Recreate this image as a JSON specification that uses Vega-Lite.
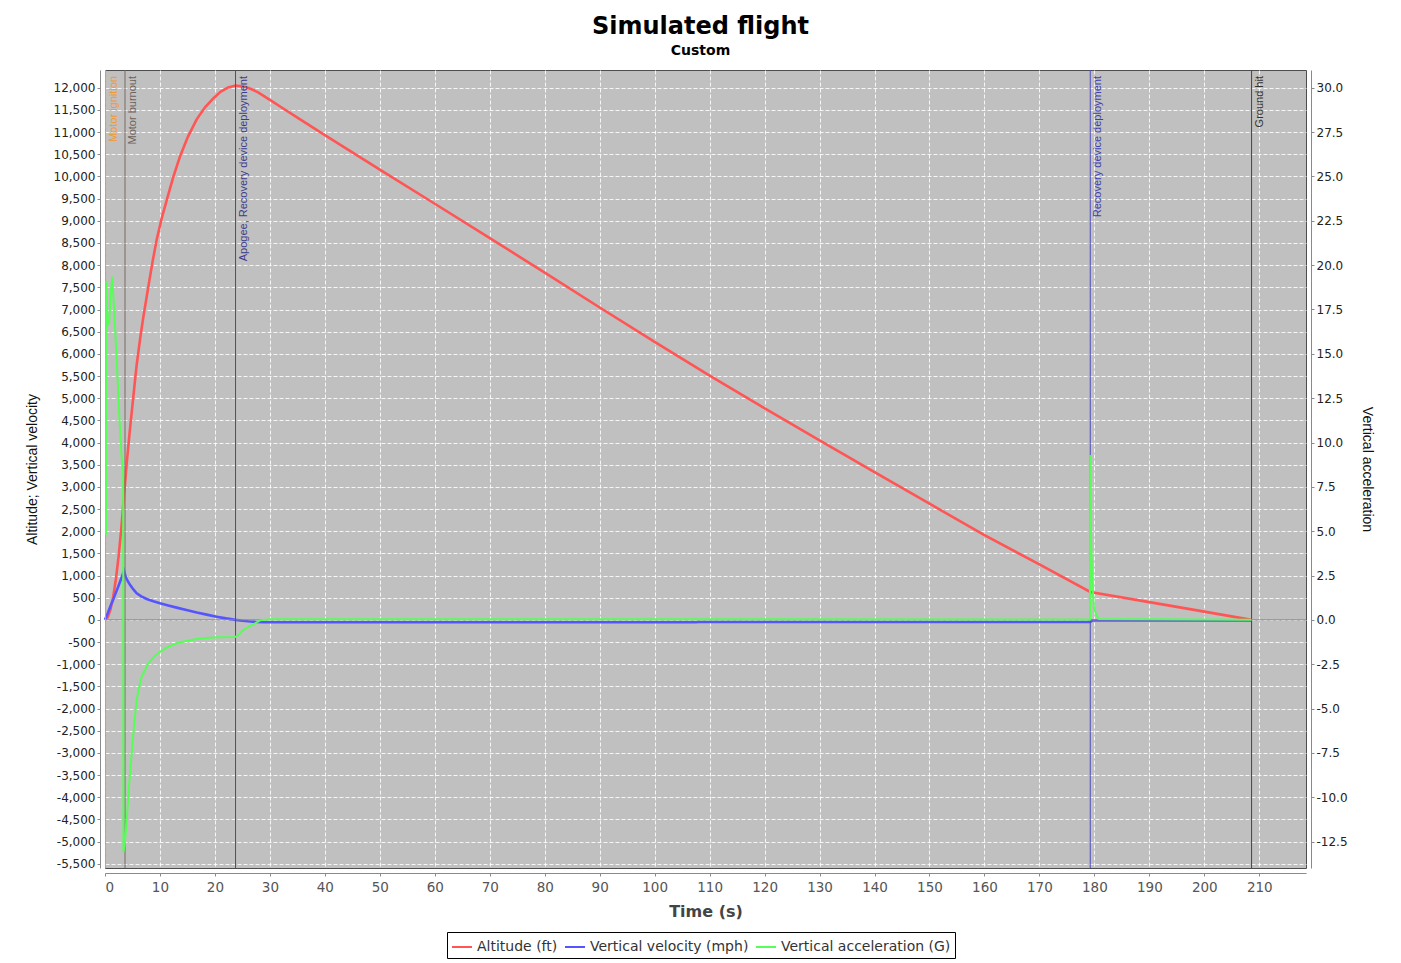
{
  "$schema": "https://vega.github.io/schema/vega-lite/v6.json",
  "width": 1201,
  "height": 798,
  "autosize": {"type": "none"},
  "padding": {"left": 105, "top": 70, "right": 95, "bottom": 95},
  "background": "white",
  "title": {
    "text": "Simulated flight",
    "subtitle": "Custom",
    "font": "DejaVu Sans",
    "fontSize": 24,
    "fontWeight": "bold",
    "color": "#000000",
    "subtitleFont": "DejaVu Sans",
    "subtitleFontSize": 14,
    "subtitleFontWeight": "bold",
    "subtitleColor": "#000000",
    "anchor": "middle",
    "offset": 12,
    "subtitlePadding": 5,
    "dx": -5
  },
  "config": {
    "locale": {"number": {"decimal": ".", "thousands": ",", "grouping": [3], "currency": ["$", ""], "minus": "-"}},
    "view": {"fill": "#c0c0c0", "stroke": "#4d4d4d", "strokeWidth": 1},
    "axis": {
      "domainColor": "#8a8a8a",
      "tickColor": "#8a8a8a",
      "tickSize": 3,
      "labelFont": "DejaVu Sans",
      "labelFontSize": 12,
      "labelColor": "#222222",
      "labelOverlap": false,
      "labelBound": false,
      "gridColor": "#ffffff",
      "gridDash": [4, 2],
      "gridOpacity": 0.85,
      "gridWidth": 1,
      "titleFont": "Liberation Sans",
      "titleFontWeight": "normal",
      "titleFontSize": 14,
      "titleColor": "#111111"
    }
  },
  "datasets": {
    "flight": [
      {"series": "Altitude (ft)", "t": 0, "v": 0},
      {"series": "Altitude (ft)", "t": 0.5, "v": 58},
      {"series": "Altitude (ft)", "t": 1, "v": 234},
      {"series": "Altitude (ft)", "t": 1.5, "v": 526},
      {"series": "Altitude (ft)", "t": 2, "v": 936},
      {"series": "Altitude (ft)", "t": 2.5, "v": 1462},
      {"series": "Altitude (ft)", "t": 3, "v": 2106},
      {"series": "Altitude (ft)", "t": 3.46, "v": 2800},
      {"series": "Altitude (ft)", "t": 4, "v": 3600},
      {"series": "Altitude (ft)", "t": 4.5, "v": 4250},
      {"series": "Altitude (ft)", "t": 5, "v": 4850},
      {"series": "Altitude (ft)", "t": 5.4, "v": 5330},
      {"series": "Altitude (ft)", "t": 5.77, "v": 5760},
      {"series": "Altitude (ft)", "t": 6.4, "v": 6350},
      {"series": "Altitude (ft)", "t": 7, "v": 6850},
      {"series": "Altitude (ft)", "t": 8, "v": 7600},
      {"series": "Altitude (ft)", "t": 8.7, "v": 8110},
      {"series": "Altitude (ft)", "t": 9.41, "v": 8580},
      {"series": "Altitude (ft)", "t": 10.3, "v": 9050},
      {"series": "Altitude (ft)", "t": 11.22, "v": 9460},
      {"series": "Altitude (ft)", "t": 12.4, "v": 9980},
      {"series": "Altitude (ft)", "t": 13.64, "v": 10450},
      {"series": "Altitude (ft)", "t": 15.1, "v": 10900},
      {"series": "Altitude (ft)", "t": 16.68, "v": 11290},
      {"series": "Altitude (ft)", "t": 18.2, "v": 11560},
      {"series": "Altitude (ft)", "t": 19.7, "v": 11760},
      {"series": "Altitude (ft)", "t": 21, "v": 11910},
      {"series": "Altitude (ft)", "t": 22.4, "v": 12010},
      {"series": "Altitude (ft)", "t": 23.75, "v": 12050},
      {"series": "Altitude (ft)", "t": 25, "v": 12035},
      {"series": "Altitude (ft)", "t": 26, "v": 12000},
      {"series": "Altitude (ft)", "t": 27, "v": 11950},
      {"series": "Altitude (ft)", "t": 28, "v": 11885},
      {"series": "Altitude (ft)", "t": 29, "v": 11808},
      {"series": "Altitude (ft)", "t": 30, "v": 11728},
      {"series": "Altitude (ft)", "t": 32, "v": 11568},
      {"series": "Altitude (ft)", "t": 35.5, "v": 11290},
      {"series": "Altitude (ft)", "t": 40, "v": 10935},
      {"series": "Altitude (ft)", "t": 45, "v": 10545},
      {"series": "Altitude (ft)", "t": 50, "v": 10155},
      {"series": "Altitude (ft)", "t": 60, "v": 9385},
      {"series": "Altitude (ft)", "t": 69.5, "v": 8650},
      {"series": "Altitude (ft)", "t": 80, "v": 7830},
      {"series": "Altitude (ft)", "t": 90, "v": 7045},
      {"series": "Altitude (ft)", "t": 100, "v": 6270},
      {"series": "Altitude (ft)", "t": 110, "v": 5510},
      {"series": "Altitude (ft)", "t": 119.2, "v": 4830},
      {"series": "Altitude (ft)", "t": 130, "v": 4050},
      {"series": "Altitude (ft)", "t": 140, "v": 3330},
      {"series": "Altitude (ft)", "t": 150, "v": 2620},
      {"series": "Altitude (ft)", "t": 160, "v": 1910},
      {"series": "Altitude (ft)", "t": 170, "v": 1250},
      {"series": "Altitude (ft)", "t": 179.25, "v": 630},
      {"series": "Altitude (ft)", "t": 190, "v": 400},
      {"series": "Altitude (ft)", "t": 200, "v": 185},
      {"series": "Altitude (ft)", "t": 208.6, "v": 0},
      {"series": "Vertical velocity (mph)", "t": 0, "v": 0},
      {"series": "Vertical velocity (mph)", "t": 0.5, "v": 150},
      {"series": "Vertical velocity (mph)", "t": 1, "v": 310},
      {"series": "Vertical velocity (mph)", "t": 1.5, "v": 460},
      {"series": "Vertical velocity (mph)", "t": 2, "v": 620},
      {"series": "Vertical velocity (mph)", "t": 2.5, "v": 780},
      {"series": "Vertical velocity (mph)", "t": 3, "v": 950},
      {"series": "Vertical velocity (mph)", "t": 3.46, "v": 1105},
      {"series": "Vertical velocity (mph)", "t": 3.8, "v": 960},
      {"series": "Vertical velocity (mph)", "t": 4.2, "v": 860},
      {"series": "Vertical velocity (mph)", "t": 4.55, "v": 790},
      {"series": "Vertical velocity (mph)", "t": 5.2, "v": 680},
      {"series": "Vertical velocity (mph)", "t": 5.77, "v": 600},
      {"series": "Vertical velocity (mph)", "t": 6.6, "v": 530},
      {"series": "Vertical velocity (mph)", "t": 7.59, "v": 472},
      {"series": "Vertical velocity (mph)", "t": 8.8, "v": 420},
      {"series": "Vertical velocity (mph)", "t": 10, "v": 375},
      {"series": "Vertical velocity (mph)", "t": 11.5, "v": 325},
      {"series": "Vertical velocity (mph)", "t": 13.04, "v": 276},
      {"series": "Vertical velocity (mph)", "t": 15, "v": 218},
      {"series": "Vertical velocity (mph)", "t": 16.7, "v": 165},
      {"series": "Vertical velocity (mph)", "t": 18.5, "v": 118},
      {"series": "Vertical velocity (mph)", "t": 20.3, "v": 72},
      {"series": "Vertical velocity (mph)", "t": 22, "v": 33},
      {"series": "Vertical velocity (mph)", "t": 23.75, "v": 0},
      {"series": "Vertical velocity (mph)", "t": 25, "v": -20},
      {"series": "Vertical velocity (mph)", "t": 26, "v": -33},
      {"series": "Vertical velocity (mph)", "t": 27.3, "v": -45},
      {"series": "Vertical velocity (mph)", "t": 29, "v": -53},
      {"series": "Vertical velocity (mph)", "t": 35, "v": -54},
      {"series": "Vertical velocity (mph)", "t": 107.5, "v": -53},
      {"series": "Vertical velocity (mph)", "t": 108, "v": -50},
      {"series": "Vertical velocity (mph)", "t": 150, "v": -49},
      {"series": "Vertical velocity (mph)", "t": 179.25, "v": -45},
      {"series": "Vertical velocity (mph)", "t": 179.6, "v": -16},
      {"series": "Vertical velocity (mph)", "t": 181, "v": -14.5},
      {"series": "Vertical velocity (mph)", "t": 208.6, "v": -14.5},
      {"series": "Vertical acceleration (G)", "t": 0.18, "v": 4.8},
      {"series": "Vertical acceleration (G)", "t": 0.24, "v": 19.1},
      {"series": "Vertical acceleration (G)", "t": 0.45, "v": 16.6},
      {"series": "Vertical acceleration (G)", "t": 0.73, "v": 16.7},
      {"series": "Vertical acceleration (G)", "t": 1.0, "v": 18.2},
      {"series": "Vertical acceleration (G)", "t": 1.33, "v": 19.35},
      {"series": "Vertical acceleration (G)", "t": 1.7, "v": 17.2},
      {"series": "Vertical acceleration (G)", "t": 2.13, "v": 14.7},
      {"series": "Vertical acceleration (G)", "t": 2.6, "v": 11.5},
      {"series": "Vertical acceleration (G)", "t": 3.0, "v": 9.3},
      {"series": "Vertical acceleration (G)", "t": 3.3, "v": 8.3},
      {"series": "Vertical acceleration (G)", "t": 3.36, "v": -13.1},
      {"series": "Vertical acceleration (G)", "t": 3.6, "v": -12.6},
      {"series": "Vertical acceleration (G)", "t": 3.95, "v": -11.3},
      {"series": "Vertical acceleration (G)", "t": 4.4, "v": -9.3},
      {"series": "Vertical acceleration (G)", "t": 4.86, "v": -7.5},
      {"series": "Vertical acceleration (G)", "t": 5.3, "v": -5.9},
      {"series": "Vertical acceleration (G)", "t": 5.77, "v": -4.5},
      {"series": "Vertical acceleration (G)", "t": 6.2, "v": -3.8},
      {"series": "Vertical acceleration (G)", "t": 6.68, "v": -3.2},
      {"series": "Vertical acceleration (G)", "t": 7.88, "v": -2.45},
      {"series": "Vertical acceleration (G)", "t": 9, "v": -2.05},
      {"series": "Vertical acceleration (G)", "t": 10, "v": -1.8},
      {"series": "Vertical acceleration (G)", "t": 11.5, "v": -1.52},
      {"series": "Vertical acceleration (G)", "t": 13.04, "v": -1.32},
      {"series": "Vertical acceleration (G)", "t": 15, "v": -1.18},
      {"series": "Vertical acceleration (G)", "t": 16.7, "v": -1.08},
      {"series": "Vertical acceleration (G)", "t": 18.5, "v": -1.02},
      {"series": "Vertical acceleration (G)", "t": 20.3, "v": -0.98},
      {"series": "Vertical acceleration (G)", "t": 23.65, "v": -0.97},
      {"series": "Vertical acceleration (G)", "t": 24.3, "v": -0.85},
      {"series": "Vertical acceleration (G)", "t": 25.16, "v": -0.57},
      {"series": "Vertical acceleration (G)", "t": 26.2, "v": -0.38},
      {"series": "Vertical acceleration (G)", "t": 27.3, "v": -0.2},
      {"series": "Vertical acceleration (G)", "t": 28.2, "v": -0.03},
      {"series": "Vertical acceleration (G)", "t": 30, "v": 0.03},
      {"series": "Vertical acceleration (G)", "t": 107.5, "v": 0.03},
      {"series": "Vertical acceleration (G)", "t": 179.2, "v": 0.02},
      {"series": "Vertical acceleration (G)", "t": 179.27, "v": 9.3},
      {"series": "Vertical acceleration (G)", "t": 179.4, "v": 4.5},
      {"series": "Vertical acceleration (G)", "t": 179.6, "v": 2.2},
      {"series": "Vertical acceleration (G)", "t": 179.9, "v": 0.75},
      {"series": "Vertical acceleration (G)", "t": 180.3, "v": 0.3},
      {"series": "Vertical acceleration (G)", "t": 180.8, "v": 0.05},
      {"series": "Vertical acceleration (G)", "t": 208.6, "v": 0}
    ],
    "events": [
      {"event": "Motor ignition", "t": 0.1},
      {"event": "Motor burnout", "t": 3.64},
      {"event": "Apogee, Recovery device deployment", "t": 23.75},
      {"event": "Recovery device deployment", "t": 179.25},
      {"event": "Ground hit", "t": 208.6}
    ]
  },
  "layer": [
    {
      "layer": [
        {
          "data": {"name": "flight"},
          "transform": [{"filter": "datum.series !== 'Vertical acceleration (G)'"}],
          "mark": {"type": "line", "strokeWidth": 2.6},
          "encoding": {
            "x": {
              "field": "t",
              "type": "quantitative",
              "title": "Time (s)",
              "scale": {"domain": [0, 218.5], "nice": false, "zero": false},
              "axis": {
                "values": [0, 10, 20, 30, 40, 50, 60, 70, 80, 90, 100, 110, 120, 130, 140, 150, 160, 170, 180, 190, 200, 210],
                "offset": 5,
                "grid": true,
                "labelFontSize": 13.5,
                "labelColor": "#555555",
                "labelPadding": 4,
                "titleFont": "DejaVu Sans",
                "titleFontWeight": "bold",
                "titleFontSize": 16,
                "titleColor": "#444444",
                "titlePadding": 10
              }
            },
            "y": {
              "field": "v",
              "type": "quantitative",
              "title": "Altitude; Vertical velocity",
              "scale": {"domain": [-5597, 12402], "nice": false, "zero": false},
              "axis": {
                "orient": "left",
                "values": [-5500, -5000, -4500, -4000, -3500, -3000, -2500, -2000, -1500, -1000, -500, 0, 500, 1000, 1500, 2000, 2500, 3000, 3500, 4000, 4500, 5000, 5500, 6000, 6500, 7000, 7500, 8000, 8500, 9000, 9500, 10000, 10500, 11000, 11500, 12000],
                "format": ",d",
                "offset": 5,
                "grid": true,
                "labelOverlap": false,
                "titlePadding": 14
              }
            },
            "color": {
              "field": "series",
              "type": "nominal",
              "scale": {
                "domain": ["Altitude (ft)", "Vertical velocity (mph)", "Vertical acceleration (G)"],
                "range": ["#ff5555", "#5555ff", "#55ff55"]
              },
              "legend": {
                "title": null,
                "orient": "none",
                "legendX": 342,
                "legendY": 862,
                "direction": "horizontal",
                "strokeColor": "#000000",
                "fillColor": "#ffffff",
                "padding": 4,
                "labelFont": "DejaVu Sans",
                "labelFontSize": 14,
                "labelColor": "#333333",
                "labelLimit": 400,
                "symbolType": "stroke",
                "symbolSize": 400,
                "symbolStrokeWidth": 2,
                "columnPadding": 3,
                "labelOffset": 4
              }
            }
          }
        },
        {
          "data": {"values": [{}]},
          "mark": {"type": "rule", "color": "#8a8a8a", "strokeWidth": 1},
          "encoding": {
            "y": {
              "datum": 0,
              "type": "quantitative",
              "title": "Altitude; Vertical velocity",
              "axis": {
                "orient": "left",
                "values": [-5500, -5000, -4500, -4000, -3500, -3000, -2500, -2000, -1500, -1000, -500, 0, 500, 1000, 1500, 2000, 2500, 3000, 3500, 4000, 4500, 5000, 5500, 6000, 6500, 7000, 7500, 8000, 8500, 9000, 9500, 10000, 10500, 11000, 11500, 12000],
                "format": ",d",
                "offset": 5,
                "grid": true,
                "labelOverlap": false,
                "titlePadding": 14
              }
            }
          }
        },
        {
          "data": {"name": "events"},
          "mark": {"type": "rule", "strokeWidth": 1},
          "encoding": {
            "x": {"field": "t", "type": "quantitative", "title": "Time (s)", "scale": {"domain": [0, 218.5], "nice": false, "zero": false}},
            "stroke": {
              "field": "event",
              "type": "nominal",
              "scale": {
                "domain": ["Motor ignition", "Motor burnout", "Apogee, Recovery device deployment", "Recovery device deployment", "Ground hit"],
                "range": ["#f09a30", "#7a6b60", "#4a4a96", "#4d4dc0", "#444444"]
              },
              "legend": null
            }
          }
        },
        {
          "data": {"name": "events"},
          "mark": {"type": "text", "font": "Liberation Sans", "fontSize": 11, "angle": 270, "align": "right", "baseline": "top", "dx": -6, "dy": 2},
          "encoding": {
            "x": {"field": "t", "type": "quantitative", "title": "Time (s)", "scale": {"domain": [0, 218.5], "nice": false, "zero": false}},
            "y": {
              "datum": 12402,
              "type": "quantitative",
              "title": "Altitude; Vertical velocity",
              "axis": {
                "orient": "left",
                "values": [-5500, -5000, -4500, -4000, -3500, -3000, -2500, -2000, -1500, -1000, -500, 0, 500, 1000, 1500, 2000, 2500, 3000, 3500, 4000, 4500, 5000, 5500, 6000, 6500, 7000, 7500, 8000, 8500, 9000, 9500, 10000, 10500, 11000, 11500, 12000],
                "format": ",d",
                "offset": 5,
                "grid": true,
                "labelOverlap": false,
                "titlePadding": 14
              }
            },
            "text": {"field": "event", "type": "nominal"},
            "fill": {
              "field": "event",
              "type": "nominal",
              "scale": {
                "domain": ["Motor ignition", "Motor burnout", "Apogee, Recovery device deployment", "Recovery device deployment", "Ground hit"],
                "range": ["#f09a30", "#6f6258", "#3c3c8c", "#4040b0", "#333333"]
              },
              "legend": null
            }
          }
        }
      ]
    },
    {
      "data": {"name": "flight"},
      "transform": [{"filter": "datum.series === 'Vertical acceleration (G)'"}],
      "mark": {"type": "line", "strokeWidth": 2},
      "encoding": {
        "x": {"field": "t", "type": "quantitative", "title": "Time (s)", "scale": {"domain": [0, 218.5], "nice": false, "zero": false}},
        "y": {
          "field": "v",
          "type": "quantitative",
          "title": "Vertical acceleration",
          "scale": {"domain": [-13.993, 31.005], "nice": false, "zero": false},
          "axis": {
            "orient": "right",
            "values": [-12.5, -10, -7.5, -5, -2.5, 0, 2.5, 5, 7.5, 10, 12.5, 15, 17.5, 20, 22.5, 25, 27.5, 30],
            "format": ".1f",
            "offset": 5,
            "grid": false,
            "titleAngle": 90,
            "titlePadding": 12
          }
        },
        "color": {
          "field": "series",
          "type": "nominal",
          "scale": {
            "domain": ["Altitude (ft)", "Vertical velocity (mph)", "Vertical acceleration (G)"],
            "range": ["#ff5555", "#5555ff", "#55ff55"]
          }
        }
      }
    }
  ],
  "resolve": {"scale": {"y": "independent"}}
}
